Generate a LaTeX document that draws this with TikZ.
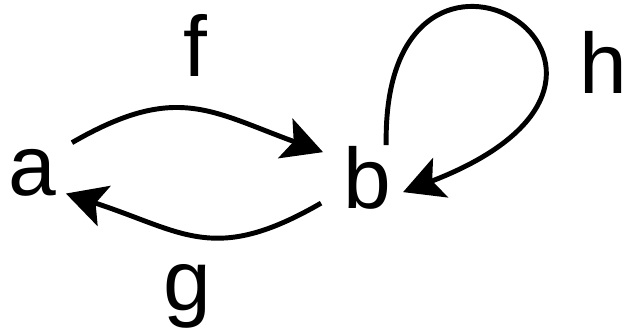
\documentclass[tikz,border=0pt]{standalone}
\usepackage{fontspec}
\setmainfont{Liberation Sans}
\usetikzlibrary{arrows.meta,calc}

\begin{document}
\begin{tikzpicture}[
  obj/.style={font=\fontsize{61}{61}\selectfont, inner sep=0pt, anchor=base},
  lbl/.style={font=\fontsize{61}{61}\selectfont, inner sep=0pt, anchor=base},
  arrow/.style={-{Stealth[length=1.0cm, width=1.05cm, inset=0.22cm]},
                line width=3.5pt}
]
  \useasboundingbox (0,0) rectangle (15.7,8.3);

  % objects
  \node[obj] (a) at (0.8, 3.425) {a};
  \node[obj] (b) at (9.19, 3.1)  {b};

  % morphisms
  \draw[arrow] ($(a.center)+(36.6:1.245)$) .. controls +(30:3.0) and +(160:3.0) ..
    ($(b.center)+(150.5:1.28)$);
  \draw[arrow] ($(b.center)+(209:1.33)$) .. controls +(210:3.1) and +(-18:3.1) ..
    ($(a.center)+(-32:1.0)$);
  \draw[arrow] ($(b.center)+(60:0.93)$) .. controls +(91:6.9) and +(21:8.4) ..
    ($(b.center)+(-22.6:0.96)$);

  % labels
  \node[lbl] (lf) at (4.875, 6.4)  {f};
  \node[lbl] (lg) at (4.675, 0.55) {g};
  \node[lbl] (lh) at (15.075, 5.975) {h};
\end{tikzpicture}
\end{document}
